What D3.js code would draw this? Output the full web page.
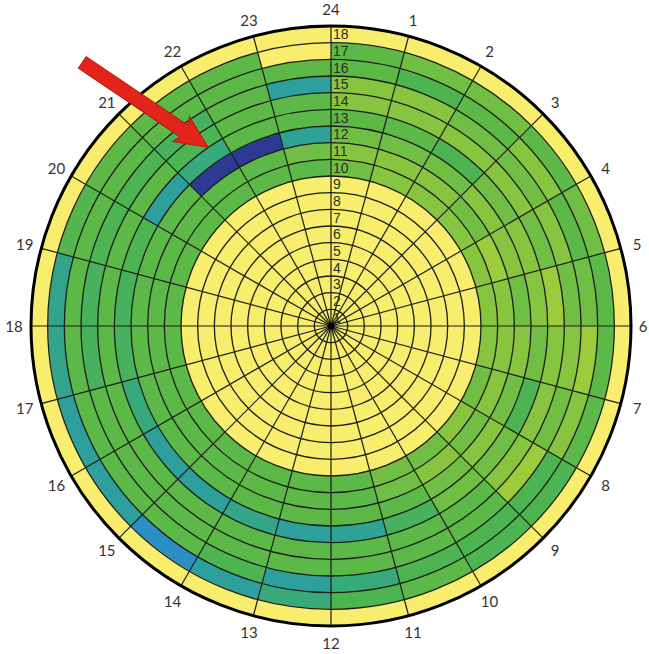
<!DOCTYPE html>
<html>
<head>
<meta charset="utf-8">
<script src="https://cdn.jsdelivr.net/npm/d3@7/dist/d3.min.js"></script>
<style>
  body { margin: 0; background: #fff; }
  svg { display: block; }
  .hour-label { font-family: Lato, "Open Sans", sans-serif; font-size: 15px; fill: #333; }
  .ring-label { font-family: "Liberation Sans Narrow", "Liberation Sans", Arial, sans-serif; font-size: 14px; fill: #2a3221; }
</style>
</head>
<body>
<div id="chart"></div>
<script>
/* Polar heatmap: 24 hours around, 18 rings out */

const hours = [1, 2, 3, 4, 5, 6, 7, 8, 9, 10, 11, 12, 13, 14, 15, 16, 17, 18, 19, 20, 21, 22, 23, 24];
const rings = [1, 2, 3, 4, 5, 6, 7, 8, 9, 10, 11, 12, 13, 14, 15, 16, 17, 18];

// one value per hour (1..24) for each ring
const ring1  = [1, 1, 1, 1, 1, 1, 1, 1, 1, 1, 1, 1, 1, 1, 1, 1, 1, 1, 1, 1, 1, 1, 1, 1];
const ring2  = [1, 1, 1, 1, 1, 1, 1, 1, 1, 1, 1, 1, 1, 1, 1, 1, 1, 1, 1, 1, 1, 1, 1, 1];
const ring3  = [1, 1, 1, 1, 1, 1, 1, 1, 1, 1, 1, 1, 1, 1, 1, 1, 1, 1, 1, 1, 1, 1, 1, 1];
const ring4  = [1, 1, 1, 1, 1, 1, 1, 1, 1, 1, 1, 1, 1, 1, 1, 1, 1, 1, 1, 1, 1, 1, 1, 1];
const ring5  = [1, 1, 1, 1, 1, 1, 1, 1, 1, 1, 1, 1, 1, 1, 1, 1, 1, 1, 1, 1, 1, 1, 1, 1];
const ring6  = [1, 1, 1, 1, 1, 1, 1, 1, 1, 1, 1, 1, 1, 1, 1, 1, 1, 1, 1, 1, 1, 1, 1, 1];
const ring7  = [1, 1, 1, 1, 1, 1, 1, 1, 1, 1, 1, 1, 1, 1, 1, 1, 1, 1, 1, 1, 1, 1, 1, 1];
const ring8  = [1, 1, 1, 1, 1, 1, 1, 1, 1, 1, 1, 1, 1, 1, 1, 1, 1, 1, 1, 1, 1, 1, 1, 1];
const ring9  = [1, 1, 1, 1, 1, 1, 1, 1, 1, 1, 1, 1, 1, 1, 1, 1, 1, 1, 1, 1, 1, 1, 1, 1];
const ring10 = [0.70, 0.75, 0.75, 0.75, 0.75, 0.75, 0.75, 0.70, 0.75, 0.70, 0.70, 0.65, 0.65, 0.65, 0.65, 0.65, 0.65, 0.65, 0.65, 0.65, 0.65, 0.65, 0.65, 0.65];
const ring11 = [0.75, 0.75, 0.75, 0.70, 0.80, 0.75, 0.75, 0.75, 0.70, 0.75, 0.70, 0.65, 0.65, 0.65, 0.65, 0.65, 0.65, 0.65, 0.65, 0.65, 0.65, 0.65, 0.65, 0.70];
const ring12 = [0.70, 0.70, 0.70, 0.75, 0.75, 0.70, 0.75, 0.70, 0.75, 0.70, 0.65, 0.65, 0.65, 0.65, 0.65, 0.65, 0.65, 0.65, 0.65, 0.65, 0.65, 0.10, 0.10, 0.47];
const ring13 = [0.65, 0.65, 0.60, 0.70, 0.75, 0.75, 0.70, 0.60, 0.70, 0.70, 0.58, 0.47, 0.45, 0.50, 0.45, 0.45, 0.53, 0.58, 0.58, 0.60, 0.45, 0.53, 0.65, 0.65];
const ring14 = [0.75, 0.75, 0.75, 0.75, 0.70, 0.80, 0.75, 0.75, 0.75, 0.65, 0.65, 0.65, 0.65, 0.65, 0.65, 0.65, 0.65, 0.65, 0.65, 0.65, 0.65, 0.60, 0.65, 0.65];
const ring15 = [0.75, 0.75, 0.70, 0.70, 0.75, 0.70, 0.75, 0.70, 0.80, 0.65, 0.65, 0.65, 0.65, 0.65, 0.65, 0.65, 0.65, 0.58, 0.58, 0.60, 0.60, 0.58, 0.65, 0.45];
const ring16 = [0.65, 0.60, 0.65, 0.75, 0.65, 0.70, 0.80, 0.75, 0.60, 0.60, 0.60, 0.53, 0.45, 0.60, 0.65, 0.65, 0.65, 0.65, 0.65, 0.65, 0.65, 0.65, 0.65, 0.65];
const ring17 = [0.65, 0.70, 0.70, 0.65, 0.70, 0.65, 0.65, 0.65, 0.60, 0.60, 0.65, 0.60, 0.53, 0.45, 0.38, 0.45, 0.45, 0.49, 0.49, 0.62, 0.65, 0.65, 0.65, 1];
const ring18 = [1, 1, 1, 1, 1, 1, 1, 1, 1, 1, 1, 1, 1, 1, 1, 1, 1, 1, 1, 1, 1, 1, 1, 1];

const ringValues = [ring1, ring2, ring3, ring4, ring5, ring6, ring7, ring8, ring9,
    ring10, ring11, ring12, ring13, ring14, ring15, ring16, ring17, ring18];

// colour stops (parula-like)
const colorStops = [0.10, 0.38, 0.45, 0.53, 0.60, 0.65, 0.70, 0.75, 0.80, 1.0];
const colorRange = ["#2c3a94", "#2b8fc4", "#2d9f9c", "#38a97b", "#4db452", "#5db947", "#70be44", "#87c540", "#9ccb3c", "#f8ed6c"];

const width = 649, height = 654;
const cx = 331, cy = 326, R = 300;

const svg = d3.select("#chart").append("svg")
    .attr("width", width)
    .attr("height", height);

const g = svg.append("g")
    .attr("transform", `translate(${cx},${cy})`);

const angle = d3.scaleBand()
    .domain(hours)
    .range([0, 2 * Math.PI]);

const radius = d3.scaleLinear()
    .domain([0, rings.length])
    .range([0, R]);

const color = d3.scaleLinear()
    .domain(colorStops)
    .range(colorRange);

const arc = d3.arc();

// CELLS
const cells = [];
ringValues.forEach((row, i) => {
    row.forEach((v, j) => cells.push({ ring: rings[i], hour: hours[j], value: v }));
});

g.selectAll(".cell")
    .data(cells)
    .enter()
    .append("path")
    .attr("class", "cell")
    .attr("d", d => arc({
        innerRadius: radius(d.ring - 1),
        outerRadius: radius(d.ring),
        startAngle: angle(d.hour),
        endAngle: angle(d.hour) + angle.bandwidth()
    }))
    .attr("fill", d => color(d.value))
    .attr("stroke", d => color(d.value))
    .attr("stroke-width", 0.5);

// GRID: rings
g.selectAll(".ring-line")
    .data(rings.slice(0, -1))
    .enter()
    .append("circle")
    .attr("class", "ring-line")
    .attr("r", d => radius(d))
    .attr("fill", "none")
    .attr("stroke", "#1c1f18")
    .attr("stroke-width", 1.3);

// GRID: spokes
g.selectAll(".spoke")
    .data(hours)
    .enter()
    .append("line")
    .attr("class", "spoke")
    .attr("x1", 0)
    .attr("y1", 0)
    .attr("x2", d => R * Math.sin(angle(d) + angle.bandwidth()))
    .attr("y2", d => -R * Math.cos(angle(d) + angle.bandwidth()))
    .attr("stroke", "#1c1f18")
    .attr("stroke-width", 1.2);

// outer border
g.append("circle")
    .attr("r", R)
    .attr("fill", "none")
    .attr("stroke", "#000")
    .attr("stroke-width", 3);

g.append("circle")
    .attr("r", 3.5)
    .attr("fill", "#000");

// ring labels along the 24 spoke
g.selectAll(".ring-label")
    .data(rings)
    .enter()
    .append("text")
    .attr("class", "ring-label")
    .attr("x", 2)
    .attr("y", d => -radius(d - 0.5))
    .attr("dominant-baseline", "central")
    .text(d => d);

// hour labels (kept inside the page on the right edge)
const labelR = 317;
g.selectAll(".hour-label")
    .data(hours)
    .enter()
    .append("text")
    .attr("class", "hour-label")
    .attr("x", d => Math.min(labelR * Math.sin(angle(d) + angle.bandwidth()), width - cx - 6))
    .attr("y", d => -labelR * Math.cos(angle(d) + angle.bandwidth()))
    .attr("text-anchor", "middle")
    .attr("dominant-baseline", "central")
    .text(d => d);

// RED ARROW pointing at the dark cell
const tipA = angle(22) + angle.bandwidth() * 0.7;
const tipR = radius(13);
const tip = [tipR * Math.sin(tipA), -tipR * Math.cos(tipA)];
const arrowLen = 152, headLen = 33, headW = 15, shaftW = 7;
const dir = Math.atan2(85, 126) * 180 / Math.PI;

g.append("polygon")
    .attr("points", [
        [0, 0], [-headLen, -headW], [-headLen + 4, -shaftW], [-arrowLen, -shaftW],
        [-arrowLen, shaftW], [-headLen + 4, shaftW], [-headLen, headW]
    ].map(p => p.join(",")).join(" "))
    .attr("transform", `translate(${tip[0]},${tip[1]}) rotate(${dir})`)
    .attr("fill", "#e3241b")
    .attr("stroke", "#b51a14")
    .attr("stroke-width", 1);
</script>
</body>
</html>
